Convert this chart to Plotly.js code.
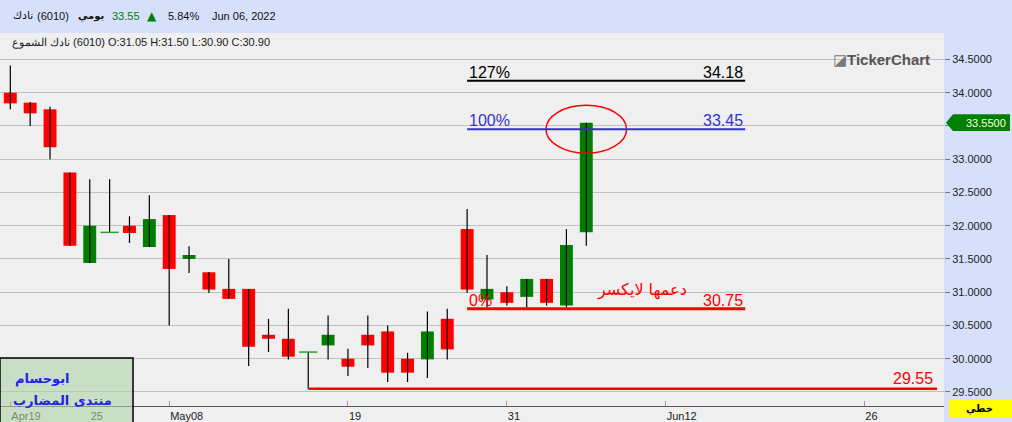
<!DOCTYPE html>
<html>
<head>
<meta charset="utf-8">
<script src="https://cdn.plot.ly/plotly-3.0.1.min.js"></script>
<style>
  html, body { margin: 0; padding: 0; background: #d7e0fb; }
  #chart { width: 1012px; height: 422px; }
</style>
</head>
<body>
<div id="chart"></div>
<script>
// ---- data ----
const dates = ["2022-04-19","2022-04-20","2022-04-21","2022-04-24","2022-04-25","2022-04-26","2022-04-27","2022-04-28",
  "2022-05-08","2022-05-09","2022-05-10","2022-05-11","2022-05-12","2022-05-15","2022-05-16","2022-05-17","2022-05-18","2022-05-19",
  "2022-05-22","2022-05-23","2022-05-24","2022-05-25","2022-05-26","2022-05-29","2022-05-30","2022-05-31","2022-06-01","2022-06-02",
  "2022-06-05","2022-06-06"];
const futureDates = ["2022-06-07","2022-06-08","2022-06-09","2022-06-12","2022-06-13","2022-06-14","2022-06-15","2022-06-16",
  "2022-06-19","2022-06-20","2022-06-21","2022-06-22","2022-06-23","2022-06-26","2022-06-27","2022-06-28","2022-06-29","2022-06-30"];
const openP  = [34.00,33.85,33.75,32.80,31.44,31.90,32.00,31.68,32.16,31.50,31.30,31.05,31.05,30.36,30.30,30.10,30.20,30.00,30.36,30.41,30.00,29.99,30.60,31.95,30.89,31.00,30.93,31.20,30.80,31.90];
const highP  = [34.41,33.86,33.79,32.80,32.70,32.70,32.14,32.46,32.16,31.69,31.30,31.50,31.05,30.60,30.75,30.10,30.65,30.15,30.65,30.50,30.09,30.71,30.75,32.25,31.56,31.09,31.20,31.20,31.95,33.55];
const lowP   = [33.75,33.50,33.00,31.70,31.44,31.90,31.74,31.68,30.50,31.29,30.99,30.90,29.89,30.10,29.99,29.55,29.99,29.74,29.86,29.65,29.65,29.71,29.99,30.99,30.77,30.80,30.77,30.80,30.77,31.70];
const closeP = [33.84,33.69,33.18,31.70,32.00,31.90,31.89,32.10,31.35,31.56,31.04,30.90,30.18,30.30,30.03,30.10,30.36,29.88,30.20,29.79,29.79,30.41,30.14,31.04,31.05,30.84,31.20,30.84,31.71,33.55];

const tickDates = ["2022-04-19","2022-04-25","2022-05-08","2022-05-19","2022-05-31","2022-06-12","2022-06-26"];
const tickText  = ["Apr19","25","May08","19","31","Jun12","26"];
const yTickVals = [29.5, 30.0, 30.5, 31.0, 31.5, 32.0, 32.5, 33.0, 33.5, 34.0, 34.5];

const fibPct    = ["127%","100%","0%"];
const fibLevels = [34.18, 33.45, 30.75];
const fibStartDate = "2022-05-29";
const supportLevel = 29.55;
const supportStartDate = "2022-05-17";
const supportNote = "دعمها لايكسر";
const lastPrice = 33.55;
const changePct = "5.84%";
const headerDate = "Jun 06, 2022";
const ohlcLegend = "O:31.05 H:31.50 L:30.90 C:30.90";

// ---- helpers ----
const axisDates = dates.concat(futureDates);
const idx = d => axisDates.indexOf(d);
const xs = dates.map((d, i) => i);
const xRange = [-0.519, 47.01];
const yRange = [29.289, 34.898];
const yPaper = v => (v - yRange[0]) / (yRange[1] - yRange[0]);

const UP = "#008000", DN = "#ff0000";

// wicks
const wx = [], wy = [];
xs.forEach(i => { wx.push(i, i, null); wy.push(lowP[i], highP[i], null); });

const bodyBase = xs.map(i => Math.min(openP[i], closeP[i]));
const bodyH = xs.map(i => Math.abs(closeP[i] - openP[i]));
const bodyCol = xs.map(i => closeP[i] >= openP[i] ? UP : DN);
const dojiX = xs.filter(i => openP[i] === closeP[i]);
const dojiY = dojiX.map(i => closeP[i]);

const traces = [
  { type: "scatter", mode: "lines", x: wx, y: wy, line: { color: "#000", width: 1.2 }, hoverinfo: "skip", showlegend: false },
  { type: "bar", x: xs, y: bodyH, base: bodyBase, width: 0.65, marker: { color: bodyCol, line: { width: 0 } }, hoverinfo: "skip", showlegend: false },
  { type: "scatter", mode: "markers", x: dojiX, y: dojiY, marker: { symbol: "line-ew-open", size: 13, line: { color: "#000", width: 1.5 } }, hoverinfo: "skip", showlegend: false }
];

const fs = 16;
const fibColors = ["#000000", "#3333cc", "#ff0000"];
const fibWidths = [2, 2, 3];
const fx0 = idx(fibStartDate), fx1 = fx0 + 14;

const shapes = [
  { type: "rect", xref: "paper", yref: "paper", x0: 0, x1: 1, y0: -16/373, y1: 0, fillcolor: "#efefef", line: { width: 0 }, layer: "below" },
  { type: "line", xref: "x", yref: "y", x0: idx(supportStartDate), x1: xRange[1] - 0.35, y0: supportLevel, y1: supportLevel, line: { color: "#ff0000", width: 2.5 } },
  { type: "circle", xref: "x", yref: "y", x0: dates.length - 1 - 2.03, x1: dates.length - 1 + 2.03, y0: fibLevels[1] - 0.36, y1: fibLevels[1] + 0.36, line: { color: "#ff0000", width: 1.5 } },
  { type: "path", xref: "paper", yref: "paper",
    path: `M 1.0021,${yPaper(lastPrice)} L 1.0095,${yPaper(lastPrice + 0.125)} L 1.0699,${yPaper(lastPrice + 0.125)} L 1.0699,${yPaper(lastPrice - 0.125)} L 1.0095,${yPaper(lastPrice - 0.125)} Z`,
    fillcolor: "#008000", line: { width: 0 } },
  { type: "rect", xref: "paper", yref: "paper", x0: 949/944, x1: 1012/944, y0: -12/373, y1: 7/373, fillcolor: "#ffff00", line: { width: 0 } },
  { type: "rect", xref: "paper", yref: "paper", x0: 0, x1: 133/944, y0: -17/373, y1: 48/373, fillcolor: "rgba(175,212,168,0.6)", line: { color: "#000", width: 1.5 }, layer: "above" }
];
fibLevels.forEach((v, k) => {
  shapes.push({ type: "line", xref: "x", yref: "y", x0: fx0, x1: fx1, y0: v, y1: v, line: { color: fibColors[k], width: fibWidths[k] } });
});

const font = "Liberation Sans, Arial, sans-serif";
const arab = "DejaVu Sans, sans-serif";
const annotations = [];
function txt(x, py, text, f, anchor, extra) {
  return Object.assign({ xref: "paper", yref: "paper", x: x / 944, y: (406 - py) / 373, xanchor: anchor || "left", yanchor: "middle", text: text, showarrow: false, font: f }, extra || {});
}
fibLevels.forEach((v, k) => {
  annotations.push({ xref: "x", yref: "y", x: fx0, y: v, xanchor: "left", yanchor: "bottom", yshift: -2, text: fibPct[k], showarrow: false, font: { family: font, size: fs, color: fibColors[k] } });
  annotations.push({ xref: "x", yref: "y", x: fx1, y: v, xanchor: "right", yanchor: "bottom", yshift: -2, text: v.toFixed(2), showarrow: false, font: { family: font, size: fs, color: fibColors[k] } });
});
annotations.push(
  { xref: "x", yref: "y", x: 31.8, y: 31.03, xanchor: "center", yanchor: "middle", text: supportNote, showarrow: false, font: { family: arab, size: 16, color: "#ff0000" } },
  { xref: "paper", yref: "y", x: 935/944, y: supportLevel, xanchor: "right", yanchor: "bottom", yshift: 0, text: supportLevel.toFixed(2), showarrow: false, font: { family: font, size: fs, color: "#ff0000" } },
  { xref: "paper", yref: "y", x: 1008/944, y: lastPrice, xanchor: "right", yanchor: "middle", text: lastPrice.toFixed(4), showarrow: false, font: { family: font, size: 11, color: "#ffffe0" } },
  txt(980, 409, "<b>خطي</b>", { family: arab, size: 10, color: "#000" }, "center"),
  txt(932, 59, "<span style='color:#777'>◪</span><b>TickerChart</b>", { family: font, size: 15, color: "#555" }, "right"),
  txt(13, 379, "<b>ابوحسام</b>", { family: arab, size: 13, color: "#2222ee" }),
  txt(11, 400, "<b>منتدى المضارب</b>", { family: arab, size: 13, color: "#2222ee" }),
  txt(11, 16, "نادك", { family: arab, size: 11, color: "#111" }),
  txt(35, 16, "(6010)", { family: font, size: 11, color: "#111" }),
  txt(76, 16, "<b>يومي</b>", { family: arab, size: 10, color: "#111" }),
  txt(110, 16, lastPrice.toFixed(2), { family: font, size: 11, color: "#008000" }),
  txt(145, 16, "▲", { family: arab, size: 12, color: "#008000" }),
  txt(166, 16, changePct, { family: font, size: 11, color: "#111" }),
  txt(210, 16, headerDate, { family: font, size: 11, color: "#111" }),
  txt(10, 42, "نادك الشموع\u200E (6010) " + ohlcLegend, { family: font, size: 11, color: "#222" })
);

const layout = {
  width: 1012, height: 422,
  margin: { l: 0, r: 68, t: 33, b: 16, pad: 0 },
  paper_bgcolor: "#d7e0fb",
  plot_bgcolor: "#efefef",
  showlegend: false,
  barmode: "overlay",
  font: { family: font, size: 11, color: "#222" },
  xaxis: {
    range: xRange, showgrid: false, zeroline: false,
    showline: true, linecolor: "#555", linewidth: 1,
    tickmode: "array", tickvals: tickDates.map(idx), ticktext: tickText,
    ticks: "inside", ticklen: 5, tickcolor: "#999",
    ticklabelposition: "outside right",
    tickfont: { family: font, size: 11, color: "#222" },
    fixedrange: true
  },
  yaxis: {
    side: "right", range: yRange,
    tickmode: "array", tickvals: yTickVals,
    ticktext: yTickVals.map(v => Math.abs(v - lastPrice) < 0.1 ? "" : v.toFixed(4)),
    showgrid: true, gridcolor: "#c0c0c0", gridwidth: 1, zeroline: false,
    ticks: "outside", ticklen: 5, tickcolor: "#777", showline: false,
    tickfont: { family: font, size: 11, color: "#222" },
    fixedrange: true
  },
  shapes: shapes,
  annotations: annotations
};

Plotly.newPlot("chart", traces, layout, { displayModeBar: false, staticPlot: true });
</script>
</body>
</html>
